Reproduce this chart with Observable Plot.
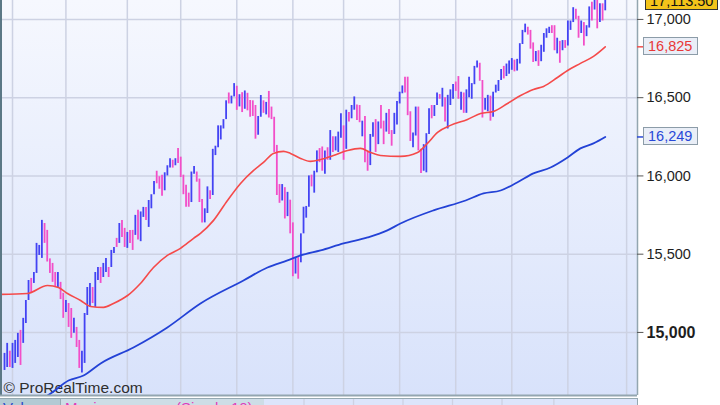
<!DOCTYPE html>
<html><head><meta charset="utf-8">
<script src="https://cdn.jsdelivr.net/npm/d3@7"></script>
<script src="https://cdn.jsdelivr.net/npm/@observablehq/plot@0.6"></script>
<style>
html,body{margin:0;padding:0;background:#fff;}
#wrap{position:relative;width:720px;height:405px;overflow:hidden;font-family:"Liberation Sans",Arial,sans-serif;}
#bg{position:absolute;left:0;top:0;width:637px;height:395px;background:linear-gradient(#f6f8fe,#d8e2fb);}
#chart{position:absolute;left:0;top:0;}
.badge{position:absolute;box-sizing:border-box;height:18px;line-height:16px;font-size:14.5px;padding:0 4px;border:1px solid #8c9ca8;background:#e8eef7;white-space:nowrap;}
#strip{position:absolute;left:0;top:398px;width:637px;height:7px;border-top:1.5px solid #95a8b1;border-right:1.5px solid #95a8b1;background:#dce5fb;overflow:hidden;}
#strip .seg{position:absolute;top:0;height:10px;overflow:hidden;font-size:15px;line-height:15px;}
#strip2{position:absolute;left:0;top:0;}
</style></head><body>
<div id="wrap"><div id="bg"></div><div id="chart"></div>
<div id="strip"><div id="strip2"></div>
<div class="seg" style="left:0;width:60px;background:#b3cad4;color:#2a48c8;"><span style="position:absolute;left:3px;top:1px;">Volume</span></div>
<div class="seg" style="left:60px;width:203px;background:#cddde6;border-left:1px solid #98aab4;color:#e03cbc;"><span style="position:absolute;left:4px;top:1px;">Moving average (Simple,10)</span></div>
</div>
</div>
<script>
// daily bars (index 0 = first bar), price levels
const barHigh = [14866,14930,14880,14930,14949,14994,15013,15090,15204,15332,15345,15383,15569,15556,15716,15696,15652,15470,15441,15383,15383,15320,15250,15204,15185,15153,15090,15032,14949,14880,15121,15287,15313,15287,15383,15415,15415,15441,15473,15415,15524,15543,15601,15696,15716,15665,15639,15652,15652,15748,15780,15770,15799,15799,15843,15880,15965,16030,15995,16005,16020,16065,16110,16100,16110,16175,16120,16005,15940,15890,16025,16060,16025,15980,15850,15790,15930,15905,16170,16190,16320,16320,16360,16480,16530,16510,16590,16573,16519,16532,16543,16528,16482,16480,16450,16380,16514,16480,16470,16540,16440,16375,16195,15945,15945,15925,15895,15845,15700,15480,15478,15630,15800,15805,16000,16005,16030,16160,16175,16185,16160,16180,16290,16250,16250,16280,16398,16320,16420,16406,16450,16505,16453,16450,16350,16380,16150,16265,16340,16360,16345,16450,16350,16400,16425,16290,16400,16475,16535,16575,16630,16631,16410,16275,16440,16440,16170,16200,16270,16430,16450,16450,16530,16520,16560,16500,16515,16550,16585,16600,16635,16535,16530,16550,16630,16590,16700,16735,16720,16610,16495,16515,16510,16535,16580,16610,16680,16700,16715,16735,16750,16740,16745,16845,16930,16970,16950,16930,16850,16795,16800,16835,16910,16940,16950,16960,16960,16880,16860,16865,16865,16990,16990,17075,17065,17020,16990,16980,16960,17080,17110,17150,17140,17100,17100,17145];
const barLow = [14757,14776,14776,14770,14802,14840,14789,14930,15057,15204,15255,15313,15377,15492,15473,15569,15450,15377,15320,15287,15281,15210,15090,15128,15032,14962,14994,14904,14770,14740,14802,15108,15160,15185,15160,15332,15313,15351,15383,15351,15415,15505,15543,15569,15607,15543,15537,15569,15524,15620,15590,15580,15735,15716,15671,15790,15880,15950,15915,15870,15905,16000,16050,16050,16065,16080,15990,15880,15800,15800,15830,16010,15960,15830,15700,15700,15760,15850,15875,16130,16180,16230,16300,16360,16460,16460,16505,16419,16441,16405,16426,16416,16375,16380,16235,16260,16375,16400,16390,16370,16360,16150,15875,15825,15840,15725,15740,15630,15356,15373,15340,15445,15630,15730,15800,15930,15890,16020,16085,16030,16010,16100,16100,16150,16160,16150,16240,16100,16170,16345,16365,16420,16355,16340,16250,16085,16030,16066,16247,16150,16200,16300,16200,16280,16265,16190,16265,16325,16460,16525,16530,16385,16220,16180,16255,16160,16015,16030,16020,16265,16365,16380,16450,16490,16440,16345,16300,16450,16490,16540,16490,16420,16400,16400,16500,16490,16583,16690,16605,16370,16420,16410,16350,16375,16530,16540,16610,16620,16635,16650,16675,16665,16670,16715,16840,16915,16900,16810,16725,16730,16700,16730,16790,16880,16910,16910,16800,16780,16720,16800,16815,16830,16930,16980,17000,16880,16910,16830,16890,16945,16990,17060,16940,16980,16990,17055];
const barUp = [1,1,0,1,1,1,0,1,1,1,0,1,1,1,1,0,0,0,0,0,1,0,0,1,0,0,1,0,0,1,1,1,1,0,1,1,0,1,1,0,1,1,0,1,0,0,1,0,0,1,0,1,1,0,1,1,1,0,0,0,1,1,1,0,1,0,0,0,0,0,1,1,0,0,0,1,1,0,1,1,1,1,1,1,0,1,1,0,1,0,1,0,0,0,0,1,1,0,1,0,0,0,0,0,1,0,1,0,0,1,0,1,1,1,1,0,1,1,0,0,1,0,1,0,1,1,1,0,1,0,1,1,0,0,1,0,0,1,1,0,1,0,0,1,0,0,1,1,1,1,0,0,0,1,1,0,0,1,1,1,0,1,1,0,1,0,1,1,1,0,0,1,0,1,1,1,1,1,0,0,1,1,0,1,1,1,1,0,1,1,1,0,1,1,1,1,0,0,0,1,0,1,1,1,1,0,0,1,0,1,0,1,1,1,0,0,1,0,1,1,0,1,0,1,0,1];
// 50-day moving average (bar index, value)
const ma50Idx = [-1.5,8.6,16.1,20.2,23.6,28.5,32.2,37.1,40.8,46.1,50.9,55.8,61,65.9,70.8,73.4,78.3,83.5,88.4,93.3,97,100.7,104.5,107.1,110.9,114.6,118.4,123.2,128.5,133.3,137.1,140.8,148.3,154.7,158.4,162.2,167,173.4,178.3,183.1,188.4,193.3,198.1,201.9,207.1,210.9,215.7,220.6,225];
const ma50Val = [15243,15249,15300,15287,15249,15204,15166,15160,15185,15236,15313,15415,15492,15537,15601,15633,15716,15843,15952,16035,16086,16144,16157,16144,16112,16093,16105,16131,16163,16176,16150,16131,16125,16150,16208,16278,16323,16361,16399,16412,16463,16514,16553,16572,16629,16674,16719,16764,16825];
// 200-day moving average (bar index, value)
const ma200Idx = [12,16.1,24,29.6,36,48.3,61,73.4,89.5,98.5,106,110.9,118.4,127,136,143.4,148.3,160.7,172.7,179.4,185.8,192,198.1,204.5,210.9,215.7,220.6,225];
const ma200Val = [14570,14597,14693,14725,14802,14904,15032,15185,15332,15415,15460,15492,15524,15569,15607,15652,15696,15780,15843,15888,15907,15958,16016,16054,16118,16176,16208,16249];
const yTicks = [15000,15500,16000,16500,17000];
const monthStarts = [3,23,46,66,87,108,127,148,169,190,211,233];
const lastPrice = 17113.50;
const ma50Last = 16825;
const ma200Last = 16249;

const xDomain = [-1.5, 237.08];
const yDomain = [14597, 17121];
const bars = barHigh.map((h, i) => ({i, high: h, low: barLow[i], up: barUp[i]}));
const ma50 = ma50Idx.map((x, k) => ({x, y: ma50Val[k]}));
const ma200 = ma200Idx.map((x, k) => ({x, y: ma200Val[k]}));
const fmt = d3.format(",");
const grid = "#cdd2e3";

const chart = Plot.plot({
  width: 720, height: 396,
  marginLeft: 0, marginRight: 83, marginTop: 0, marginBottom: 1,
  x: {domain: xDomain, axis: null},
  y: {domain: yDomain, axis: null},
  style: {background: "transparent", fontFamily: "Liberation Sans, Arial, sans-serif", overflow: "visible"},
  marks: [
    Plot.ruleY(yTicks, {stroke: grid, strokeWidth: 1.5}),
    Plot.ruleX(monthStarts, {stroke: grid, strokeWidth: 1.5}),
    Plot.text(["© ProRealTime.com"], {frameAnchor: "bottom-left", dx: 3, dy: -3, textAnchor: "start", lineAnchor: "bottom", fontSize: 15.5, fill: "#2e2e2e"}),
    Plot.ruleX(bars, {x: "i", y1: "low", y2: "high", stroke: d => d.up ? "#4343f3" : "#f24ec8", strokeWidth: 1.8, clip: true}),
    Plot.line(ma50, {x: "x", y: "y", stroke: "#f54a4a", strokeWidth: 1.6, curve: "monotone-x", clip: true}),
    Plot.line(ma200, {x: "x", y: "y", stroke: "#2342d6", strokeWidth: 1.8, curve: "monotone-x", clip: true}),
    Plot.ruleX([xDomain[0]], {stroke: "#5b7886", strokeWidth: 3}),
    Plot.ruleX([xDomain[1]], {stroke: "#93a6b0", strokeWidth: 1.5}),
    Plot.ruleY([yDomain[0]], {stroke: "#93a6b0", strokeWidth: 2}),
    Plot.ruleY(yTicks, {x1: xDomain[1], x2: xDomain[1] + 2.4, stroke: "#555"}),
    Plot.ruleY([ma50Last], {x1: xDomain[1], x2: xDomain[1] + 2.4, stroke: "#f05050", strokeWidth: 1.5}),
    Plot.ruleY([ma200Last], {x1: xDomain[1], x2: xDomain[1] + 2.4, stroke: "#2a4ad8", strokeWidth: 1.5}),
    Plot.text(yTicks.filter(d => d !== 15000), {x: xDomain[1], y: d => d, text: d => fmt(d), dx: 9, textAnchor: "start", fontSize: 14.5, fill: "#1e1e1e"}),
    Plot.text(yTicks.filter(d => d === 15000), {x: xDomain[1], y: d => d, text: d => fmt(d), dx: 9, textAnchor: "start", fontSize: 16, fontWeight: "bold", fill: "#1e1e1e"})
  ]
});
document.getElementById("chart").appendChild(chart);

const ys = chart.scale("y");
function badge(v, text, color, bg, border, left, width) {
  const b = document.createElement("div");
  b.className = "badge";
  b.textContent = text;
  b.style.color = color;
  b.style.background = bg;
  b.style.borderColor = border;
  b.style.left = left + "px";
  b.style.width = width + "px";
  b.style.top = (ys.apply(v) - 9) + "px";
  document.getElementById("wrap").appendChild(b);
}
badge(ma50Last, fmt(ma50Last), "#e83838", "#e9eef7", "#8c9ca8", 643, 55);
badge(ma200Last, fmt(ma200Last), "#2848d8", "#e9eef7", "#8c9ca8", 643, 55);
badge(lastPrice, d3.format(",.2f")(lastPrice), "#111", "#f3c41a", "#333", 645, 73);

const strip = Plot.plot({
  width: 720, height: 8,
  marginLeft: 0, marginRight: 83, marginTop: 0, marginBottom: 0,
  x: {domain: xDomain, axis: null},
  y: {axis: null},
  style: {background: "transparent"},
  marks: [Plot.ruleX(monthStarts, {stroke: grid, strokeWidth: 1.5})]
});
document.getElementById("strip2").appendChild(strip);
</script>
</body></html>
